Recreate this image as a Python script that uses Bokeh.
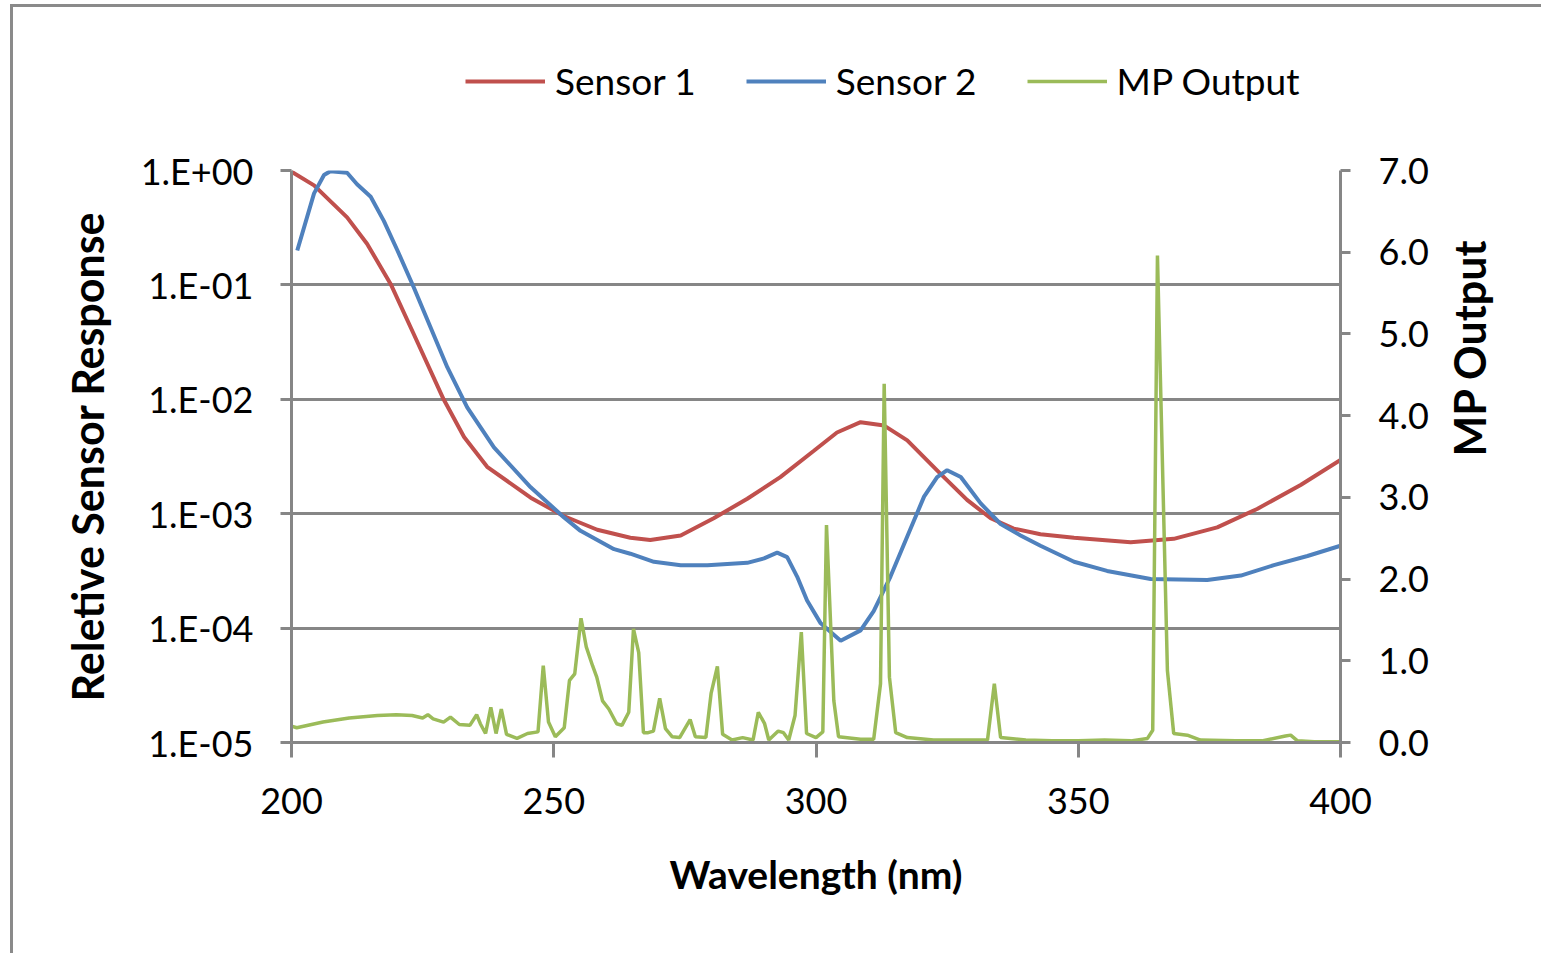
import math
from bokeh.plotting import figure
from bokeh.layouts import column
from bokeh.models import (Range1d, LinearAxis, LinearScale, FixedTicker, CustomJSTickFormatter,
                          PrintfTickFormatter, Legend, LegendItem)
from bokeh.embed import file_html
from bokeh.resources import INLINE

# ---------------- data ----------------
s1_nm = [200, 204.3, 210.6, 214.4, 218.9, 223.3, 229.0, 232.9, 237.3, 245.6,
         251.9, 258.3, 264.6, 268.4, 274.2, 280.5, 286.9, 293.2, 299.6, 304.0,
         308.5, 313, 317.4, 323.7, 328.8, 333.3, 337.7, 342.8, 349.2, 360,
         368.2, 376.5, 384.1, 392.4, 400]
s1_val = [0.977, 0.741, 0.389, 0.229, 0.102, 0.0372, 0.0100, 0.00468, 0.00257, 0.00138,
          0.000955, 0.000724, 0.000617, 0.000589, 0.000646, 0.000912, 0.00135, 0.00209, 0.00355, 0.00513,
          0.00631, 0.00589, 0.00437, 0.00224, 0.00132, 0.000912, 0.000741, 0.000661, 0.000617, 0.000562,
          0.000603, 0.000759, 0.00110, 0.00178, 0.00295]

s2_nm = [201.1, 204.3, 206.2, 207.4, 210.6, 212.5, 215.1, 217.6, 220.2, 223.3,
         226.5, 229.7, 233.5, 238.6, 245.6, 251.9, 255.1, 261.5, 264.6, 269.1,
         274.2, 279.3, 286.9, 290.1, 292.6, 294.5, 296.4, 298.3, 300.9, 304.7,
         308.5, 311, 314.2, 317.4, 320.6, 323.1, 325, 327.6, 331.4, 335.2,
         339, 342.8, 349.2, 355.5, 363.8, 374.6, 381, 387.3, 393.7, 400]
s2_val = [0.200, 0.631, 0.912, 0.986, 0.955, 0.759, 0.589, 0.363, 0.200, 0.0955,
          0.0427, 0.0191, 0.00851, 0.00380, 0.00170, 0.000933, 0.000708, 0.000490, 0.000447, 0.000380,
          0.000355, 0.000355, 0.000372, 0.000407, 0.000457, 0.000417, 0.000282, 0.000174, 0.000110, 0.0000776,
          0.0000955, 0.000141, 0.000282, 0.000631, 0.00141, 0.00209, 0.00240, 0.00209, 0.00123, 0.000813,
          0.000646, 0.000525, 0.000380, 0.000316, 0.000269, 0.000263, 0.000288, 0.000355, 0.000427, 0.000525]

mp_nm = [200, 201, 206, 211, 216.4, 220, 223, 225, 226, 227,
         229, 230.3, 232, 234, 235.3, 236, 237, 238, 239, 240,
         241, 243, 245, 247, 248, 249, 250.3, 252, 253, 254,
         255.2, 256.2, 257.4, 258.2, 259.3, 260.5, 262, 263, 264.3, 265.2,
         266.2, 267.1, 268, 269, 270.2, 271.3, 272.6, 274, 276, 277,
         279, 280, 281.2, 282.2, 284, 286, 288, 289, 290.2, 291,
         292.8, 293.8, 294.8, 296, 297.2, 298.2, 300, 301.3, 302, 303.4,
         304.3, 308.5, 311, 312.3, 313, 314, 315.2, 317.4, 322.4, 332.7,
         334, 335.2, 340, 345, 350, 355, 360, 363.2, 364.2, 365.1,
         367, 368.2, 370.8, 373.3, 380, 385, 389.5, 390.5, 391.8, 395, 400]
mp_val = [0.20, 0.18, 0.25, 0.30, 0.33, 0.34, 0.33, 0.30, 0.34, 0.29,
          0.25, 0.31, 0.22, 0.21, 0.34, 0.23, 0.11, 0.43, 0.11, 0.41,
          0.10, 0.05, 0.11, 0.13, 0.94, 0.25, 0.07, 0.18, 0.76, 0.84,
          1.52, 1.17, 0.94, 0.80, 0.51, 0.41, 0.23, 0.21, 0.37, 1.39,
          1.10, 0.12, 0.12, 0.14, 0.54, 0.17, 0.07, 0.06, 0.28, 0.07,
          0.06, 0.60, 0.93, 0.10, 0.03, 0.06, 0.03, 0.37, 0.23, 0.03,
          0.14, 0.12, 0.03, 0.33, 1.35, 0.11, 0.06, 0.13, 2.66, 0.51,
          0.07, 0.04, 0.04, 0.72, 4.39, 0.80, 0.12, 0.06, 0.03, 0.03,
          0.72, 0.06, 0.03, 0.02, 0.02, 0.03, 0.02, 0.05, 0.15, 5.96,
          0.88, 0.11, 0.09, 0.03, 0.02, 0.02, 0.08, 0.09, 0.02, 0.01, 0.01]

x_ticks = [200, 250, 300, 350, 400]
y_ticks = [1e-5, 1e-4, 1e-3, 1e-2, 1e-1, 1e0]
mp_ticks = [0, 1, 2, 3, 4, 5, 6, 7]

series_names = ["Sensor 1", "Sensor 2", "MP Output"]
colors = ["#C0504D", "#4F81BD", "#9BBB59"]
widths = [4, 4, 3.5]

FONT = "Lato"
AXIS_GRAY = "#868686"

# ---------------- layout geometry (page pixels) ----------------
W, H_ALL = 1528, 946
OX, OY = 13, 7                 # canvas origin on the page (margin + border)
F_LEFT, F_RIGHT = 291, 1340    # plot area on the page
F_TOP, F_BOTTOM = 170, 742
H_TOP = 120                    # strip above the chart that holds the legend
H_MAIN = H_ALL - H_TOP
main_oy = OY + H_TOP

# ---------------- legend strip ----------------
top = figure(width=W, height=H_TOP, x_range=Range1d(0, 1), y_range=Range1d(0, 1),
             x_axis_location=None, y_axis_location=None, output_backend="svg",
             toolbar_location=None, title=None,
             min_border_left=0, min_border_right=0, min_border_top=0, min_border_bottom=0)
top.outline_line_color = None
top.grid.visible = False
top.background_fill_color = "white"
top.border_fill_color = "white"
# same series, drawn outside this strip's visible range; they only feed the legend
lr1 = top.line(s1_nm, s1_val, line_color=colors[0], line_width=widths[0])
lr2 = top.line(s2_nm, s2_val, line_color=colors[1], line_width=widths[1])
lr3 = top.line(mp_nm, mp_val, line_color=colors[2], line_width=widths[2])

# the column aligns this strip's frame with the chart's plot area
legend = Legend(items=[LegendItem(label=series_names[0], renderers=[lr1]),
                       LegendItem(label=series_names[1], renderers=[lr2]),
                       LegendItem(label=series_names[2], renderers=[lr3])],
                orientation="horizontal", location=(465 - F_LEFT, H_TOP - (103 - OY)),
                border_line_color=None, background_fill_alpha=0,
                glyph_width=80, glyph_height=30, label_standoff=10, spacing=50,
                padding=0, margin=0,
                label_text_font=FONT, label_text_font_size="37px",
                label_text_color="black")
top.add_layout(legend, "center")

# ---------------- main chart ----------------
p = figure(width=W, height=H_MAIN, x_range=Range1d(200, 400), y_range=Range1d(y_ticks[0], y_ticks[-1]),
           y_axis_type="log", output_backend="svg", toolbar_location=None, title=None,
           min_border_left=F_LEFT - OX, min_border_right=W - (F_RIGHT - OX),
           min_border_top=F_TOP - main_oy, min_border_bottom=H_MAIN - (F_BOTTOM - main_oy))
p.outline_line_color = None
p.background_fill_color = "white"
p.border_fill_color = "white"

p.extra_y_ranges = {"mp": Range1d(mp_ticks[0], mp_ticks[-1])}
p.extra_y_scales = {"mp": LinearScale()}

r1 = p.line(s1_nm, s1_val, line_color=colors[0], line_width=widths[0])
r2 = p.line(s2_nm, s2_val, line_color=colors[1], line_width=widths[1])
r3 = p.line(mp_nm, mp_val, line_color=colors[2], line_width=widths[2],
            y_range_name="mp")

# x axis
xa = p.xaxis[0]
xa.ticker = FixedTicker(ticks=x_ticks, minor_ticks=[])
xa.axis_label = "Wavelength (nm)"

# left log axis
ya = p.yaxis[0]
ya.ticker = FixedTicker(ticks=y_ticks, minor_ticks=[])
ya.formatter = CustomJSTickFormatter(code="""
const e = Math.round(Math.log10(tick));
const s = e < 0 ? "-" : "+";
const a = Math.abs(e);
return "1.E" + s + (a < 10 ? "0" : "") + a;
""")
ya.axis_label = "Reletive Sensor Response"

# right axis
ra = LinearAxis(y_range_name="mp", ticker=FixedTicker(ticks=mp_ticks, minor_ticks=[]),
                formatter=PrintfTickFormatter(format="%.1f"), axis_label="MP Output")
p.add_layout(ra, "right")
if "axis_label_orientation" in ra.properties():
    ra.axis_label_orientation = math.pi / 2

for ax in [xa, ya, ra]:
    ax.axis_line_color = AXIS_GRAY
    ax.axis_line_width = 3
    ax.major_tick_line_color = AXIS_GRAY
    ax.major_tick_line_width = 3
    ax.major_tick_in = 0
    ax.minor_tick_line_color = None
    ax.major_label_text_font = FONT
    ax.major_label_text_font_size = "36px"
    ax.major_label_text_color = "black"
    ax.axis_label_text_font = FONT
    ax.axis_label_text_font_style = "bold"
    ax.axis_label_text_color = "black"

xa.axis_label_text_font_size = "39px"
ya.axis_label_text_font_size = "43px"
ra.axis_label_text_font_size = "43px"

xa.major_tick_out = 15
xa.major_label_standoff = 30
xa.axis_label_standoff = 34
ya.major_tick_out = 11
ya.major_label_standoff = 27
ya.axis_label_standoff = 25
ra.major_tick_out = 10
ra.major_label_standoff = 28
ra.axis_label_standoff = 38

p.xgrid.visible = False
p.ygrid.grid_line_color = AXIS_GRAY
p.ygrid.grid_line_width = 3

layout = column(top, p, spacing=0,
                styles={"margin-left": "10px", "margin-top": "4px",
                        "border-left": "3px solid #8a8a8a", "border-top": "3px solid #8a8a8a"})

open("out.html", "w").write(file_html(layout, INLINE))
